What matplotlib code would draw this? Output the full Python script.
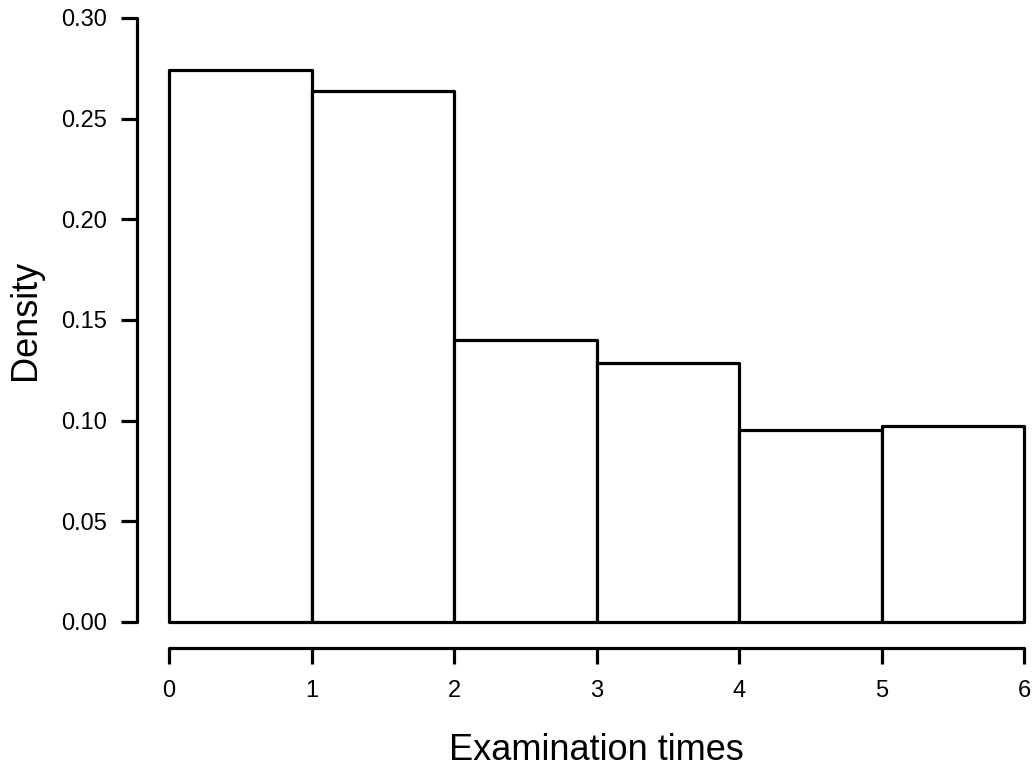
import matplotlib
matplotlib.use("Agg")
import matplotlib.pyplot as plt

bin_edges = [0, 1, 2, 3, 4, 5, 6]
densities = [0.274, 0.2635, 0.140, 0.1285, 0.0955, 0.0975]
x_ticks = [0, 1, 2, 3, 4, 5, 6]
y_ticks = [0.00, 0.05, 0.10, 0.15, 0.20, 0.25, 0.30]
y_tick_labels = ["0.00", "0.05", "0.10", "0.15", "0.20", "0.25", "0.30"]

plt.rcParams['font.family'] = ['Liberation Sans', 'DejaVu Sans']

fig = plt.figure(figsize=(10.35, 7.73), dpi=100)
W, H = 1035, 773
ax = fig.add_axes([169 / W, 1 - 622 / H, (1024 - 169) / W, (622 - 18) / H])

lefts = bin_edges[:-1]
widths = [b - a for a, b in zip(bin_edges[:-1], bin_edges[1:])]
bars = ax.bar(lefts, densities, width=widths, align='edge', color='white',
              edgecolor='black', linewidth=2.3, joinstyle='round',
              capstyle='round')
for b in bars:
    b.set_clip_on(False)

ax.set_xlim(0, 6)
ax.set_ylim(0, 0.30)
ax.set_xticks(x_ticks)
ax.set_yticks(y_ticks)
ax.set_yticklabels(y_tick_labels)

for s in ['top', 'right']:
    ax.spines[s].set_visible(False)
ax.spines['left'].set_position(('outward', 23))
ax.spines['bottom'].set_position(('outward', 19))
for s in ['left', 'bottom']:
    ax.spines[s].set_linewidth(2.3)
    ax.spines[s].set_capstyle('round')

ax.tick_params(axis='both', width=2.3, length=11.5, labelsize=17)
ax.tick_params(axis='x', pad=11)
ax.tick_params(axis='y', pad=10)

ax.set_xlabel("Examination times", fontsize=26)
ax.set_ylabel("Density", fontsize=26)
ax.xaxis.set_label_coords(0.5, -(750 - 622) / (622 - 18), transform=ax.transAxes)
ax.yaxis.set_label_coords(-(169 - 25) / (1024 - 169), 0.5, transform=ax.transAxes)
ax.xaxis.label.set_va('center')
ax.yaxis.label.set_va('center')

fig.savefig("out.png", dpi=100)
